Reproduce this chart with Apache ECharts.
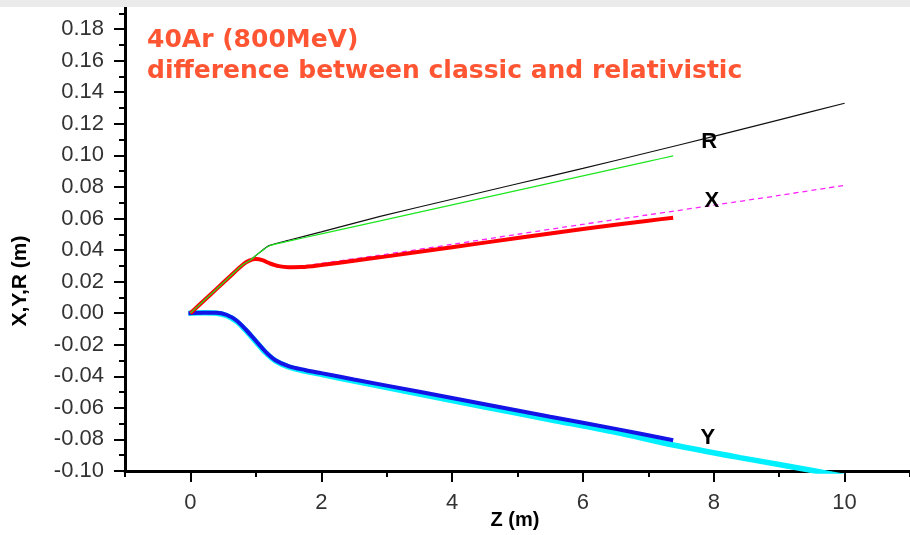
<!DOCTYPE html>
<html><head><meta charset="utf-8">
<script src="https://cdn.jsdelivr.net/npm/echarts@6/dist/echarts.min.js"></script>
<style>html,body{margin:0;padding:0;background:#fff}#c{width:910px;height:535px}</style>
</head><body><div id="c"></div>
<script>
const yMajorTicks = [-0.10,-0.08,-0.06,-0.04,-0.02,0.00,0.02,0.04,0.06,0.08,0.10,0.12,0.14,0.16,0.18];
const yMinorTicks = [-0.09,-0.07,-0.05,-0.03,-0.01,0.01,0.03,0.05,0.07,0.09,0.11,0.13,0.15,0.17,0.19];
const xMajorTicks = [0,2,4,6,8,10];
const xMinorTicks = [-1,1,3,5,7,9,11];

const titleLines = ['40Ar (800MeV)', 'difference between classic and relativistic'];
const curveLabels = [['R', 7.93, 0.1087], ['X', 7.97, 0.0711], ['Y', 7.91, -0.0791]];

const rBlack = [[0,0],[0.4,0.0153],[0.8,0.0307],[0.92,0.0337],[1.05,0.0382],[1.2,0.0428],[1.5,0.0462],[2,0.0515],[2.9,0.0613],[4,0.0722],[5,0.082],[6,0.0917],[7,0.1018],[8,0.1120],[9,0.1225],[10,0.1330]];
const rGreen = [[0,0],[0.4,0.0153],[0.8,0.0307],[0.92,0.0337],[1.05,0.0382],[1.2,0.0426],[1.5,0.0456],[2,0.0503],[2.9,0.0585],[4,0.0686],[5,0.0778],[6,0.0870],[7,0.0962],[7.38,0.0997]];
const xRed = [[0,0],[0.2,0.0077],[0.4,0.0154],[0.6,0.0231],[0.8,0.0307],[0.9,0.0333],[1.0,0.0343],[1.1,0.0336],[1.2,0.0318],[1.35,0.0298],[1.5,0.0291],[1.7,0.0292],[2,0.0305],[2.5,0.0332],[3,0.0360],[4,0.0418],[5,0.0476],[6,0.0533],[7,0.0586],[7.38,0.0605]];
const xMagenta = [[0,0],[0.2,0.0077],[0.4,0.0154],[0.6,0.0231],[0.8,0.0307],[0.9,0.0333],[1.0,0.0343],[1.1,0.0337],[1.2,0.0320],[1.35,0.0301],[1.5,0.0295],[1.7,0.0298],[2,0.0315],[2.5,0.0345],[2.9,0.0368],[4,0.0436],[5,0.0500],[6,0.0563],[7,0.0623],[8,0.0684],[9,0.0746],[10,0.0810]];
const yBlue = [[-0.03,0],[0.2,0.0003],[0.4,0.0003],[0.55,-0.001],[0.7,-0.0045],[0.85,-0.0105],[1.0,-0.0175],[1.15,-0.0245],[1.3,-0.0298],[1.5,-0.0335],[1.75,-0.036],[2,-0.038],[2.5,-0.042],[3.5,-0.0498],[4.5,-0.0577],[5.5,-0.0656],[6.5,-0.0733],[7.38,-0.0805]];
const yCyan = [[-0.03,0],[0.2,0.0002],[0.4,0.0],[0.55,-0.0015],[0.7,-0.005],[0.85,-0.011],[1.0,-0.018],[1.15,-0.025],[1.3,-0.0302],[1.5,-0.034],[1.75,-0.0367],[2,-0.0388],[2.5,-0.043],[3.5,-0.0512],[4.5,-0.0595],[5.5,-0.0675],[6.5,-0.0755],[7.38,-0.0835],[8.4,-0.0915],[9.55,-0.1000],[10,-0.1035]];

const chart = echarts.init(document.getElementById('c'), null, {renderer: 'canvas'});
const tickStyle = {color: '#000', width: 2};
const labelFont = {fontFamily: 'Liberation Sans', fontSize: 22, color: '#333'};

function lineSeries(name, data, color, width, extra) {
  return Object.assign({
    name, type: 'line', data, showSymbol: false, symbol: 'none', animation: false,
    lineStyle: {color, width}, clip: true, xAxisIndex: 0, yAxisIndex: 0
  }, extra || {});
}

chart.setOption({
  animation: false,
  backgroundColor: '#fff',
  grid: {left: 125, right: 0, top: 7, bottom: 64},
  xAxis: [
    {type: 'value', min: -1, max: 11, position: 'bottom',
     axisLine: {show: true, onZero: false, lineStyle: {color: '#000', width: 3}},
     axisTick: {show: true, length: 11, lineStyle: tickStyle, customValues: xMajorTicks},
     axisLabel: {show: true, margin: 21, customValues: xMajorTicks, ...labelFont},
     splitLine: {show: false}},
    {type: 'value', min: -1, max: 11, position: 'bottom', gridIndex: 0,
     axisLine: {show: false, onZero: false},
     axisTick: {show: true, length: 6, lineStyle: tickStyle, customValues: xMinorTicks},
     axisLabel: {show: false}, splitLine: {show: false}}
  ],
  yAxis: [
    {type: 'value', min: -0.10, max: 0.194, position: 'left',
     axisLine: {show: true, onZero: false, lineStyle: {color: '#000', width: 3}},
     axisTick: {show: true, length: 11, lineStyle: tickStyle, customValues: yMajorTicks},
     axisLabel: {show: true, margin: 21, customValues: yMajorTicks,
                 formatter: v => v.toFixed(2), ...labelFont},
     splitLine: {show: false}},
    {type: 'value', min: -0.10, max: 0.194, position: 'left', gridIndex: 0,
     axisLine: {show: false, onZero: false},
     axisTick: {show: true, length: 6, lineStyle: tickStyle, customValues: yMinorTicks},
     axisLabel: {show: false}, splitLine: {show: false}}
  ],
  series: [
    lineSeries('Y relativistic', yCyan, '#00f0ff', 5.5, {smooth: 0.3}),
    lineSeries('Y classic', yBlue, '#1414e6', 4, {smooth: 0.3}),
    lineSeries('X relativistic', xMagenta, '#ff22ff', 1.3, {smooth: 0.3, lineStyle: {color: '#ff22ff', width: 1.3, type: [5, 4]}}),
    lineSeries('R relativistic', rBlack, '#111', 1.2, {smooth: 0.2}),
    lineSeries('X classic', xRed, '#ff0000', 4, {smooth: 0.3}),
    lineSeries('R classic', rGreen, '#1ee61e', 1.2, {smooth: 0.2})
  ]
});

const graphics = [
  {type: 'rect', shape: {x: 0, y: 0, width: 910, height: 7}, style: {fill: '#ebebeb'}, z: 100},
  {type: 'text', x: 147, y: 40, style: {text: titleLines[0], font: 'bold 25px "DejaVu Sans"', fill: '#ff5533', verticalAlign: 'middle', align: 'left'}, z: 100},
  {type: 'text', x: 147, y: 71, style: {text: titleLines[1], font: 'bold 25px "DejaVu Sans"', fill: '#ff5533', verticalAlign: 'middle', align: 'left'}, z: 100},
  {type: 'text', x: 20, y: 281, rotation: Math.PI / 2, style: {text: 'X,Y,R (m)', font: 'bold 21px "Liberation Sans"', fill: '#000', verticalAlign: 'middle', align: 'center'}, z: 100},
  {type: 'text', x: 515, y: 520, style: {text: 'Z (m)', font: 'bold 20px "Liberation Sans"', fill: '#000', verticalAlign: 'middle', align: 'center'}, z: 100}
];
curveLabels.forEach(([t, zx, vy]) => {
  const p = chart.convertToPixel({xAxisIndex: 0, yAxisIndex: 0}, [zx, vy]);
  graphics.push({type: 'text', x: p[0], y: p[1], style: {text: t, font: 'bold 22px "Liberation Sans"', fill: '#000', verticalAlign: 'middle', align: 'center'}, z: 100});
});
chart.setOption({graphic: graphics});
</script></body></html>
